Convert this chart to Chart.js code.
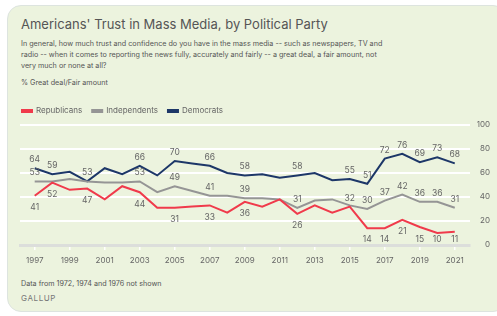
<!DOCTYPE html>
<html>
<head>
<meta charset="utf-8">
<script src="https://cdn.jsdelivr.net/npm/chart.js@4"></script>
<style>
  body { margin: 0; background: #fff; font-family: Inter, "Noto Sans", sans-serif; color: #555; }
  .card { position: absolute; left: 7px; top: 5px; width: 500px; height: 307px; background: #ecf3de;
          border: 1px solid #dde4df; border-radius: 14px; box-sizing: border-box; }
  .t { position: absolute; left: 21px; white-space: nowrap; }
  #title { top: 16px; font-size: 13px; color: #555; }
  #sub { top: 38px; font-size: 7.2px; line-height: 11px; color: #555; }
  #unit { top: 78px; font-size: 7.2px; color: #555; }
  #note { top: 279px; font-size: 7.2px; color: #555; }
  #src { top: 293px; font-size: 8px; letter-spacing: 0.6px; color: #777; }
  #wrap { position: absolute; left: 0; top: 97px; width: 497px; height: 183px; }
</style>
</head>
<body>
<div class="card"></div>
<div class="t" id="title">Americans' Trust in Mass Media, by Political Party</div>
<div class="t" id="sub">In general, how much trust and confidence do you have in the mass media -- such as newspapers, TV and<br>radio -- when it comes to reporting the news fully, accurately and fairly -- a great deal, a fair amount, not<br>very much or none at all?</div>
<div class="t" id="unit">% Great deal/Fair amount</div>
<div class="t" id="note">Data from 1972, 1974 and 1976 not shown</div>
<div class="t" id="src">GALLUP</div>
<div id="wrap"><canvas id="chart"></canvas></div>
<script>
// ข้อมูล
const years = [1997, 1998, 1999, 2000, 2001, 2002, 2003, 2004, 2005, 2006, 2007, 2008, 2009,
  2010, 2011, 2012, 2013, 2014, 2015, 2016, 2017, 2018, 2019, 2020, 2021];
const republicans = [41, 52, 46, 47, 38, 49, 44, 31, 31, 32, 33, 27, 36,
  32, 38, 26, 33, 27, 32, 14, 14, 21, 15, 10, 11];
const independents = [53, 53, 55, 53, 52, 52, 53, 44, 49, 45, 41, 41, 39,
  39, 38, 31, 37, 38, 33, 30, 37, 42, 36, 36, 31];
const democrats = [64, 59, 61, 53, 64, 59, 66, 58, 70, 68, 66, 60, 58,
  59, 56, 58, 60, 54, 55, 51, 72, 76, 69, 73, 68];
const xTicks = [1997, 1999, 2001, 2003, 2005, 2007, 2009, 2011, 2013, 2015, 2017, 2019, 2021];
const yTicks = [0, 20, 40, 60, 80, 100];

// ปีที่มีป้ายตัวเลข
const repLabelYears = [1997, 1998, 2000, 2003, 2005, 2007, 2009, 2012, 2016, 2017, 2018, 2019, 2020, 2021];
const repLabelAbove = [2015];
const indLabelYears = [1997, 2003, 2005, 2007, 2009, 2012, 2016, 2017, 2018, 2019, 2020, 2021];
const demLabelYears = [1997, 1998, 2000, 2003, 2005, 2007, 2009, 2012, 2015, 2016, 2017, 2018, 2019, 2020, 2021];

const pts = (arr) => years.map((y, i) => ({ x: y, y: arr[i] }));

const valueLabels = {
  id: "valueLabels",
  afterDatasetsDraw(chart) {
    const ctx = chart.ctx;
    const bottom = chart.chartArea.bottom;
    ctx.save();
    ctx.font = "8.5px Inter, 'Noto Sans', sans-serif";
    ctx.fillStyle = "#666";
    ctx.textAlign = "center";
    ctx.textBaseline = "middle";
    const specs = [
      { ds: 0, above: repLabelAbove, below: repLabelYears },
      { ds: 1, above: indLabelYears, below: [] },
      { ds: 2, above: demLabelYears, below: [] },
    ];
    specs.forEach((s) => {
      const meta = chart.getDatasetMeta(s.ds);
      const data = chart.data.datasets[s.ds].data;
      meta.data.forEach((el, i) => {
        const yr = data[i].x;
        if (s.above.includes(yr)) ctx.fillText(data[i].y, el.x, el.y - 8.5);
        if (s.below.includes(yr)) ctx.fillText(data[i].y, el.x, Math.min(el.y + 12, bottom - 6));
      });
    });
    ctx.restore();
  },
};

new Chart(document.getElementById("chart"), {
  type: "line",
  data: {
    datasets: [
      { label: "Republicans", data: pts(republicans), borderColor: "#f03a4b", backgroundColor: "#f03a4b" },
      { label: "Independents", data: pts(independents), borderColor: "#959595", backgroundColor: "#959595" },
      { label: "Democrats", data: pts(democrats), borderColor: "#1d3768", backgroundColor: "#1d3768" },
    ],
  },
  options: {
    responsive: true,
    maintainAspectRatio: false,
    animation: false,
    elements: { point: { radius: 0 }, line: { borderWidth: 2, tension: 0 } },
    layout: { padding: { left: 12, right: 7, top: 0, bottom: 0 } },
    plugins: {
      tooltip: { enabled: false },
      legend: {
        position: "top",
        align: "start",
        labels: {
          boxWidth: 10,
          boxHeight: 2,
          padding: 10,
          color: "#666",
          font: { family: "Inter, 'Noto Sans', sans-serif", size: 8 },
        },
      },
    },
    scales: {
      x: {
        type: "linear",
        min: 1996.16,
        max: 2021.87,
        afterBuildTicks: (s) => { s.ticks = xTicks.map((v) => ({ value: v })); },
        afterFit: (s) => { s.height = 35; },
        grid: { drawOnChartArea: false, drawTicks: true, tickLength: 5, color: "#fff", lineWidth: 1.5 },
        border: { color: "#dcdedb", width: 3 },
        ticks: { color: "#666", padding: 6, maxRotation: 0, autoSkip: false,
          font: { family: "Inter, 'Noto Sans', sans-serif", size: 8 }, callback: (v) => String(v) },
      },
      y: {
        position: "right",
        min: 0,
        max: 100,
        afterBuildTicks: (s) => { s.ticks = yTicks.map((v) => ({ value: v })); },
        afterFit: (s) => { s.width = 20; },
        grid: { drawTicks: false, color: (c) => (c.tick && c.tick.value === 0 ? "rgba(0,0,0,0)" : "#fff"), lineWidth: 2 },
        border: { display: false },
        ticks: { color: "#666", crossAlign: "far", padding: 0,
          font: { family: "Inter, 'Noto Sans', sans-serif", size: 8 } },
      },
      pad: {
        position: "left",
        display: true,
        afterFit: (s) => { s.width = 8; },
        grid: { display: false },
        border: { display: false },
        ticks: { display: false },
      },
    },
  },
  plugins: [valueLabels],
});
</script>
</body>
</html>
